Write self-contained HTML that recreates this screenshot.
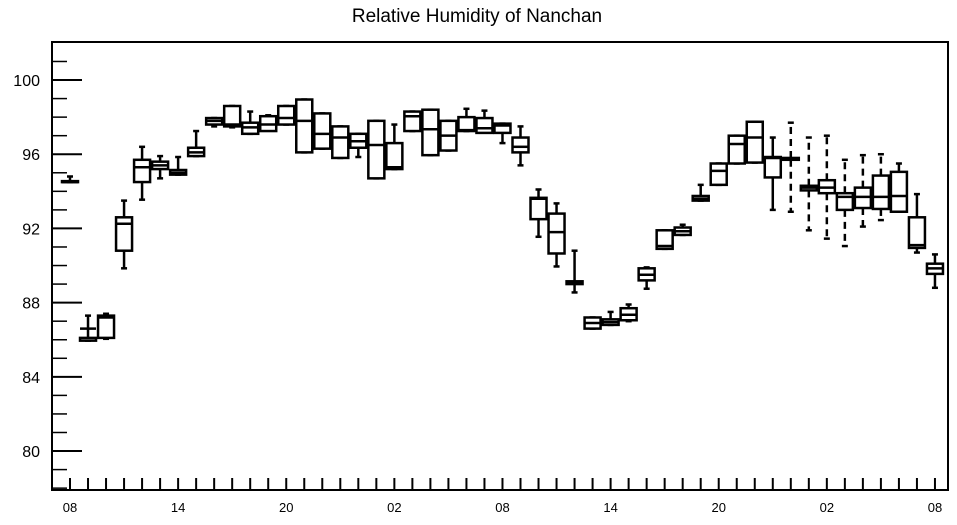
<!DOCTYPE html>
<html><head><meta charset="utf-8"><style>
html,body{margin:0;padding:0;background:#fff;}
svg text{font-family:"Liberation Sans",Arial,sans-serif;fill:#000;}
</style></head><body>
<svg id="chart" width="957" height="520" viewBox="0 0 957 520" xmlns="http://www.w3.org/2000/svg">
<text x="477" y="22" font-size="19" text-anchor="middle">Relative Humidity of Nanchan</text>
<rect x="52" y="42" width="896" height="448" fill="none" stroke="#000" stroke-width="2"/>
<g id="axes"></g>
<g id="boxes"></g>
</svg>
<script>
const mins = [94.5,85.95,86.05,89.85,93.55,94.7,94.9,95.9,97.5,97.45,97.1,97.3,97.6,96.1,96.3,95.8,95.85,94.7,95.2,97.25,95.95,96.2,97.25,97.35,96.6,95.4,91.55,89.95,88.55,86.6,86.8,87.0,88.75,90.9,91.65,93.5,94.35,95.5,95.55,93.0,92.9,91.9,91.45,91.05,92.1,92.45,92.9,90.7,88.8];
const q1s = [94.5,85.95,86.1,90.8,94.5,95.2,94.9,95.9,97.6,97.5,97.1,97.25,97.6,96.1,96.3,95.8,96.35,94.7,95.2,97.25,95.95,96.2,97.25,97.15,97.15,96.1,92.5,90.65,89.0,86.6,86.8,87.05,89.2,90.9,91.65,93.5,94.35,95.5,95.55,94.75,95.7,94.05,93.9,93.0,93.1,93.05,92.9,90.95,89.55];
const medians = [94.5,86.6,87.2,92.25,95.3,95.4,95.0,96.1,97.8,97.6,97.45,97.6,97.95,97.8,97.1,96.9,96.7,96.5,95.3,98.05,97.35,97.0,97.3,97.4,97.55,96.4,93.6,91.8,89.1,86.9,86.95,87.35,89.5,91.05,91.85,93.6,95.1,96.55,96.9,95.8,95.75,94.2,94.2,93.7,93.7,93.7,93.75,91.1,89.85];
const q3s = [94.55,86.1,87.3,92.6,95.7,95.6,95.15,96.35,97.95,98.6,97.7,98.05,98.6,98.95,98.2,97.5,97.1,97.8,96.6,98.3,98.4,97.8,98.0,97.95,97.65,96.9,93.65,92.8,89.15,87.2,87.1,87.7,89.85,91.9,92.05,93.75,95.5,97.0,97.75,95.85,95.8,94.3,94.6,93.9,94.2,94.85,95.05,92.6,90.1];
const maxs = [94.8,87.3,87.4,93.5,96.4,95.9,95.85,97.25,97.95,98.6,98.3,98.1,98.6,98.95,98.2,97.5,97.1,97.8,97.6,98.3,98.4,97.8,98.45,98.35,97.65,97.5,94.1,93.35,90.8,87.2,87.5,87.9,89.9,91.9,92.2,94.35,95.5,97.0,97.75,96.9,97.7,96.9,97.0,95.7,95.95,96.0,95.5,93.85,90.6];
const dashed = [0,0,0,0,0,0,0,0,0,0,0,0,0,0,0,0,0,0,0,0,0,0,0,0,0,0,0,0,0,0,0,0,0,0,0,0,0,0,0,0,1,1,1,1,1,1,0,0,0];
const yTicks = [80,84,88,92,96,100];
const xTickLabels = ["08","14","20","02","08","14","20","02","08"];

const NS="http://www.w3.org/2000/svg";
const yMin=77.9, yMax=102.05, plotTop=42, plotBottom=490;
function y(v){return plotBottom-(v-yMin)/(yMax-yMin)*(plotBottom-plotTop);}
function x(i){return 70+i*18.02;}
function mk(tag,attrs,parent){const e=document.createElementNS(NS,tag);for(const k in attrs)e.setAttribute(k,attrs[k]);parent.appendChild(e);return e;}
const axes=document.getElementById('axes');
for(let v=78;v<=101;v++){
  const major=yTicks.includes(v);
  const t=mk('line',{x1:52,x2:major?82:67,y1:y(v),y2:y(v),stroke:'#000','stroke-width':major?2:1.5},axes);
  
  
}
yTicks.forEach(v=>{
  const t=mk('text',{x:40,y:y(v)+6,'font-size':16,'text-anchor':'end'},axes);
  t.textContent=v;
  
  
});
for(let i=0;i<mins.length;i++){
  const t=mk('line',{x1:x(i),x2:x(i),y1:478,y2:490,stroke:'#000','stroke-width':2},axes);
  
  
}
xTickLabels.forEach((s,k)=>{
  const t=mk('text',{x:x(k*6),y:512,'font-size':13,'text-anchor':'middle'},axes);
  t.textContent=s;
  
  
});
const boxes=document.getElementById('boxes');
for(let i=0;i<mins.length;i++){
  const g=mk('g',{stroke:'#000','stroke-width':2.5,fill:'none'},boxes);
  
  
  const cx=x(i), w=16;
  const da=dashed[i]?'7,5':'none';
  mk('line',{x1:cx,x2:cx,y1:y(q3s[i]),y2:y(maxs[i]),'stroke-dasharray':da},g);
  mk('line',{x1:cx,x2:cx,y1:y(q1s[i]),y2:y(mins[i]),'stroke-dasharray':da},g);
  mk('line',{x1:cx-3,x2:cx+3,y1:y(maxs[i]),y2:y(maxs[i])},g);
  mk('line',{x1:cx-3,x2:cx+3,y1:y(mins[i]),y2:y(mins[i])},g);
  const r=mk('rect',{x:cx-w/2,y:y(q3s[i]),width:w,height:Math.max(1,y(q1s[i])-y(q3s[i])),fill:'#fff'},g);
  
  
  mk('line',{x1:cx-w/2,x2:cx+w/2,y1:y(medians[i]),y2:y(medians[i])},g);
}
</script>
</body></html>
